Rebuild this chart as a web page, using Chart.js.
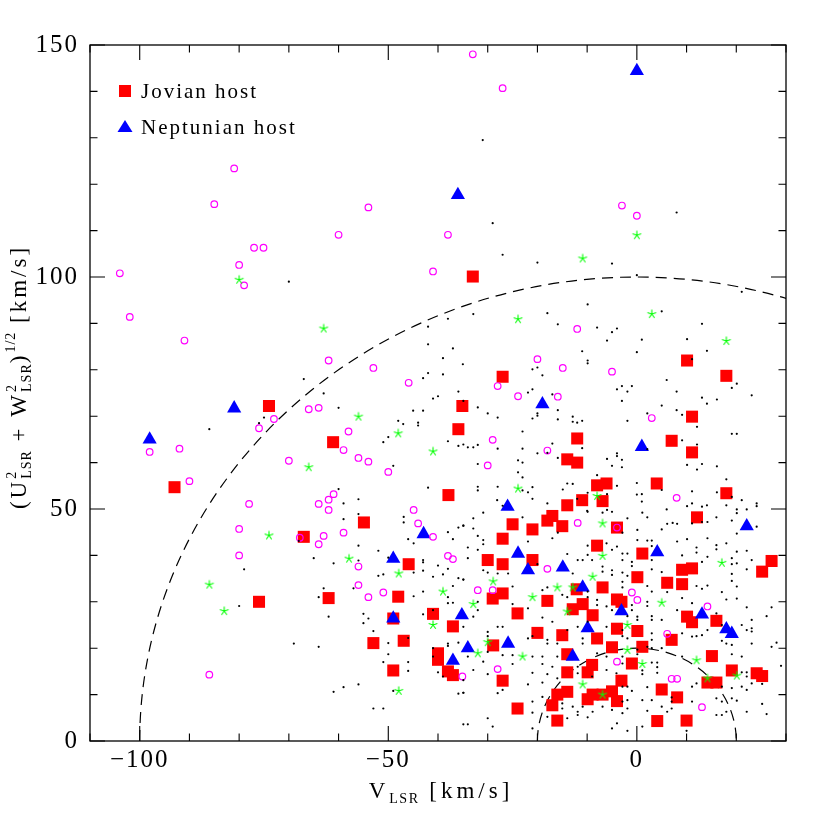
<!DOCTYPE html>
<html><head><meta charset="utf-8">
<script src="https://cdn.jsdelivr.net/npm/chart.js@4/dist/chart.umd.min.js"></script>
<style>html,body{margin:0;padding:0;background:#fff}#wrap{width:830px;height:830px}</style>
</head><body><div id="wrap"><canvas id="c" width="830" height="830"></canvas></div>
<script>
// ---- axis / reference data ----
const xRange=[-110,30];
const yRange=[0,150];
const xTickValues=[-100,-50,0];
const yTickValues=[0,50,100,150];
const minorStep=10;
const circleRadii=[100,20];
const legendLabels=['Jovian host','Neptunian host'];

// ---- series: [V_LSR, (U^2+W^2)^1/2] ----
const jovian=[[-33.0,100.1],[-74.0,72.2],[-93.0,54.7],[-76.0,30.0],[-61.1,64.4],[-35.9,67.2],[-35.1,72.2],[-37.9,53.0],
[-27.0,78.5],[-12.0,65.2],[-14.0,60.7],[-12.0,60.0],[-8.0,55.1],[-6.1,55.5],[-11.0,51.9],[-14.0,50.8],[-6.9,51.7],
[10.1,82.0],[18.0,78.7],[11.1,69.9],[7.0,64.7],[11.1,62.2],[4.0,55.5],[18.0,53.4],
[-54.9,47.1],[-67.0,44.0],[-45.9,38.1],[-62.0,30.8],[-48.0,31.1],[-41.0,27.4],[-37.0,24.7],[-49.0,26.4],[-53.0,21.1],[-46.9,21.6],[-40.0,18.9],[-40.0,17.5],[-49.0,15.2],[-38.0,15.0],[-37.0,14.2],
[-17.0,48.5],[-18.0,47.5],[-15.0,46.3],[-25.0,46.7],[-21.0,45.6],[-27.0,43.6],[-30.0,39.0],[-27.0,38.1],[-21.0,39.0],[-8.0,42.1],[-4.0,46.0],[-27.0,31.8],[-29.0,30.7],[-24.0,27.5],[-18.0,30.2],[-12.1,32.7],[-10.9,29.5],[-12.9,28.4],[-8.9,27.1],[-6.9,33.1],[-4.0,30.5],[-3.1,30.0],[-20.0,23.3],[-15.0,22.8],[-28.9,20.6],[-8.0,22.1],[-4.0,24.2],[-5.0,20.2],[-14.0,18.7],[-9.0,16.4],[-9.9,14.8],[-14.0,14.8],[-27.0,13.0],[-14.0,10.6],[-16.0,10.0],[-8.9,10.0],[-9.9,9.0],[-6.9,10.0],[-5.0,10.7],[-4.0,8.6],[-3.1,13.0],[-17.0,7.7],[-24.0,7.0],[-16.0,4.4],
[12.1,48.2],[1.1,40.4],[0.1,35.3],[6.1,34.1],[9.1,36.9],[11.1,37.2],[9.1,33.8],[0.1,23.7],[7.0,21.8],[1.1,20.3],[10.1,26.8],[11.1,25.6],[16.0,25.9],[-1.0,16.7],[15.1,18.3],[5.0,11.1],[8.1,9.4],[14.2,12.6],[16.0,12.6],[19.1,15.2],[24.1,14.6],[25.2,14.0],[25.2,36.5],[27.1,38.8],[4.1,4.3],[10.0,4.4]];

const neptunian=[[-36.0,117.7],[0.0,144.4],[-81.0,71.7],[-98.0,65.0],[-19.0,72.6],[-26.0,50.5],[1.0,63.4],
[-42.9,44.6],[-49.0,39.3],[-49.0,26.4],[-35.2,27.1],[-37.0,17.3],[-34.0,20.0],
[-23.9,40.4],[-21.9,36.8],[-14.9,37.4],[-10.9,33.1],[-9.9,24.3],[-25.9,21.0],[-12.9,18.2],[-3.1,28.0],
[22.1,46.3],[4.1,40.7],[13.1,27.3],[18.0,24.1],[19.1,23.1]];

const otherHosts=[[-81.0,123.4],[-85.0,115.7],[-77.0,106.3],[-75.1,106.3],[-80.0,102.6],[-104.0,100.8],
[-33.0,148.0],[-27.0,140.7],[-54.0,115.0],[-60.0,109.1],[-38.0,109.1],[-41.0,101.2],[-3.0,115.4],[0.0,113.2],
[-79.0,98.2],[-102.0,91.4],[-91.0,86.3],[-73.0,69.4],[-76.0,67.4],[-98.0,62.3],[-92.0,63.0],[-70.0,60.4],[-90.0,56.0],[-78.0,51.1],[-80.0,45.7],[-80.0,40.0],[-86.0,14.3],
[-62.0,82.0],[-53.0,80.4],[-45.9,77.2],[-66.0,71.5],[-64.0,71.8],[-58.0,66.7],[-59.0,62.7],[-56.0,61.0],[-54.0,60.2],[-50.0,58.0],[-61.0,53.2],[-62.0,52.0],[-64.0,51.1],[-62.0,49.8],[-44.9,49.8],
[-44.0,46.9],[-67.8,43.8],[-63.0,44.2],[-64.0,42.4],[-59.0,44.9],[-41.0,44.0],[-38.0,39.9],[-37.0,39.2],[-56.0,37.6],[-56.0,33.6],[-54.0,31.0],[-51.0,32.0],[-35.1,13.9],
[-12.0,88.8],[-20.0,82.3],[-14.9,80.4],[-5.0,79.6],[-28.0,76.5],[-23.9,74.3],[-15.9,74.2],[-29.0,64.9],[-18.0,62.6],[-30.0,59.4],
[3.0,69.6],[8.0,52.4],
[-11.9,47.0],[-4.0,46.0],[-18.0,37.1],[-32.0,32.5],[-29.0,32.5],[-28.0,15.5],[-4.0,17.1],
[-1.0,32.0],[0.1,30.4],[14.2,29.0],[6.1,23.1],[7.0,13.4],[8.1,13.4],[13.1,7.3]];

const starsGreen=[[0.0,109.0],[-10.9,104.0],[-80.0,99.4],[-74.0,44.3],[-86.0,33.7],[-83.0,28.0],
[-63.0,88.9],[-56.0,69.9],[-48.0,66.3],[-41.0,62.4],[-66.0,59.0],
[-23.9,90.9],[-23.9,54.4],[-8.0,52.8],[3.0,92.0],[18.0,86.2],
[-57.9,39.3],[-47.9,36.1],[-39.0,32.2],[-41.0,25.0],[-47.9,10.8],
[-6.9,46.9],[-6.9,39.9],[-8.9,35.4],[-28.9,34.4],[-16.0,33.1],[-12.9,33.1],[-21.0,31.0],[-32.9,29.5],[-14.0,27.9],[-30.0,21.3],[-32.0,18.9],[-23.0,18.2],[-10.9,12.2],[-6.9,10.0],
[17.1,38.4],[5.0,29.8],[-1.9,25.0],[-1.9,19.6],[1.1,16.6],[12.0,17.4],[14.2,13.5],[20.1,14.1]];

const fieldStars=[[-31.0,129.5],[-29.0,111.6],[-27.0,104.8],[-20.0,103.1],[8.0,113.9],[-5.0,102.9],[0.0,100.4],
[-70.0,99.0],[-86.0,67.2],[-76.0,68.5],[-75.0,69.7],[-68.0,43.1],[-79.0,37.0],[-80.0,29.1],[-69.0,21.0],[-67.0,78.0],
[-63.0,74.9],[-60.0,71.8],[-42.0,89.3],[-38.0,91.0],[-42.0,85.5],[-37.0,84.6],[-39.0,82.5],[-35.0,81.2],[-42.0,79.3],[-39.0,79.0],[-43.0,78.2],[-35.9,75.3],[-34.9,73.3],[-41.0,73.8],[-40.0,74.3],[-45.0,71.2],[-43.0,71.2],[-48.0,69.0],[-47.0,68.3],[-44.0,68.6],[-44.0,68.0],[-50.0,65.5],[-51.0,64.4],[-38.0,64.6],[-35.9,63.6],[-34.9,63.9],[-49.0,59.3],[-42.0,54.6],[-60.0,54.3],[-59.0,51.2],[-56.0,52.1],
[-32.9,92.0],[-9.9,94.1],[-18.0,92.2],[-15.9,89.8],[-8.0,89.1],[-5.0,88.1],[-4.0,88.9],[-6.0,86.3],[-11.0,84.0],[-9.9,82.0],[-9.9,81.4],[-21.0,80.1],[-20.0,80.5],[-19.0,78.8],[-21.9,75.1],[-21.0,75.8],[-17.0,74.7],[-4.0,75.8],[-3.0,76.5],[-3.0,73.3],[-32.0,71.9],[-30.0,70.6],[-28.0,69.7],[-21.0,69.5],[-20.0,70.6],[-20.0,70.1],[-15.9,71.3],[-15.9,69.3],[-12.9,69.9],[-12.9,68.8],[-12.0,68.6],[-11.0,69.0],[-23.0,66.7],[-17.0,64.1],[-18.0,62.1],[-11.0,63.1],[-34.0,63.3],[-32.9,63.3],[-32.0,63.8],[-28.0,63.0],[-23.0,63.0],[-20.0,62.0],[-15.9,61.0],[-23.9,60.5],[-23.0,60.0],[-32.0,59.7],[-23.9,57.9],[-23.0,56.8],[-6.0,60.8],[-4.0,62.0],[-4.0,61.4],[-5.0,59.3],[-3.0,60.6],[-4.0,55.0],[-8.0,57.3],[-14.0,55.5],[-12.9,55.4],[-14.9,54.2],[-32.0,54.8],[-32.0,54.0],[-28.0,54.8],[-23.0,54.0],[-21.9,53.6],[-21.0,54.7],[-21.0,52.2],[-18.0,51.2],[-9.9,53.5],[-6.0,53.2],[-12.0,52.2],[-28.1,51.9],[-27.0,50.7],[-10.0,49.6],[-6.0,49.8],
[21.1,96.8],[5.0,92.6],[13.1,89.9],[1.0,86.5],[10.1,86.6],[0.0,83.8],[14.1,84.1],[11.1,82.3],[6.0,77.8],[-1.0,76.5],[-1.9,75.3],[8.0,75.3],[19.1,76.1],[20.1,77.0],[23.1,74.5],[13.1,74.0],[14.1,72.7],[16.1,73.6],[5.0,72.3],[8.0,71.3],[9.1,70.3],[2.1,70.6],[-1.9,69.0],[12.1,67.7],[19.1,66.2],[20.1,66.2],[9.1,64.8],[12.1,63.9],[2.1,62.9],[-3.0,59.0],[10.1,59.5],[13.1,59.7],[12.1,58.5],[16.1,59.2],[18.0,56.4],[0.0,55.6],[5.0,54.1],[11.1,53.8],[16.1,53.6],[0.0,53.1],[1.0,53.2],[1.0,51.6],[19.1,52.6],[21.1,51.9],[11.1,51.2],[10.1,50.6],[13.1,50.5],[14.1,50.8],[6.0,49.9],[18.0,50.8],[20.1,49.9],[22.1,49.9],[24.1,51.2],[24.1,50.6],
[-56.0,48.9],[-59.0,47.8],[-46.9,48.3],[-46.9,47.1],[-46.0,43.5],[-44.9,42.6],[-38.0,45.0],[-37.0,43.5],[-35.9,46.0],[-34.9,46.4],[-56.0,42.1],[-52.0,41.0],[-65.0,39.4],[-61.0,38.3],[-56.0,38.9],[-50.0,39.5],[-43.0,39.0],[-43.0,38.5],[-40.0,37.8],[-38.0,37.1],[-44.9,36.3],[-43.0,36.7],[-41.0,35.4],[-39.0,35.9],[-52.0,35.6],[-51.0,35.9],[-35.9,35.1],[-34.9,34.8],[-63.0,32.9],[-57.0,32.9],[-64.0,31.0],[-44.9,31.2],[-43.0,32.2],[-37.0,33.4],[-38.0,31.0],[-38.0,29.7],[-37.0,29.8],[-55.0,27.4],[-54.0,26.4],[-55.0,25.4],[-62.0,26.8],[-43.0,27.3],[-41.0,28.2],[-53.0,23.7],[-46.0,22.2],[-50.0,21.1],[-38.0,21.0],[-38.0,20.5],[-35.9,21.2],[-64.0,20.3],[-50.0,18.7],[-41.0,20.0],[-41.0,18.2],[-51.0,17.0],[-46.0,17.0],[-46.0,15.1],[-40.0,14.8],[-39.0,13.9],[-34.9,13.1],[-56.0,12.2],[-59.0,11.6],[-61.0,10.6],[-49.0,10.8],[-53.0,7.0],[-51.0,7.0],[-35.9,10.2],[-34.9,10.4],[-34.9,3.6],
[-30.9,49.2],[-32.9,48.0],[-34.9,46.4],[-32.9,45.8],[-23.0,48.2],[-9.9,49.4],[-6.9,49.2],[-5.0,49.4],[-32.0,44.2],[-30.9,43.3],[-30.9,42.4],[-34.0,41.7],[-32.0,41.2],[-21.9,43.0],[-17.0,43.7],[-15.9,44.9],[-9.9,42.1],[-6.1,42.6],[-5.0,41.2],[-4.0,41.9],[-2.9,40.4],[-2.9,39.0],[-34.0,39.4],[-30.9,36.8],[-30.0,36.3],[-28.0,36.1],[-25.9,36.1],[-20.0,38.1],[-14.0,40.3],[-12.9,36.1],[-11.9,39.0],[-10.9,39.0],[-9.9,40.1],[-9.0,39.0],[-6.9,37.6],[-6.9,36.5],[-5.0,36.8],[-5.0,35.8],[-2.9,36.3],[-34.9,34.8],[-25.0,33.3],[-19.0,32.5],[-18.0,33.1],[-15.0,31.5],[-14.0,31.0],[-9.9,32.2],[-9.9,31.0],[-8.0,30.4],[-8.0,29.3],[-6.1,29.0],[-5.0,28.2],[-32.0,30.0],[-32.0,28.2],[-34.9,24.6],[-32.9,26.8],[-28.0,24.6],[-27.0,24.6],[-25.0,29.5],[-21.9,28.6],[-19.0,26.6],[-17.0,25.7],[-14.0,23.9],[-11.9,24.6],[-9.9,25.7],[-6.1,24.6],[-30.0,23.5],[-30.0,22.6],[-21.9,22.1],[-21.0,22.6],[-18.0,21.8],[-18.0,21.0],[-16.0,21.0],[-10.9,22.1],[-10.9,21.0],[-8.0,18.9],[-6.1,18.2],[-34.0,18.2],[-30.9,17.1],[-30.0,19.2],[-27.0,18.5],[-25.0,18.5],[-25.0,16.6],[-21.0,18.2],[-19.0,18.2],[-16.0,18.2],[-19.0,16.6],[-17.0,16.0],[-32.9,15.3],[-30.0,14.4],[-21.0,14.7],[-18.0,14.4],[-16.0,13.5],[-11.9,16.0],[-11.9,14.6],[-9.0,13.9],[-6.1,15.3],[-4.1,14.6],[-2.9,11.7],[-21.9,12.2],[-19.0,12.6],[-34.9,10.4],[-28.0,10.3],[-27.0,11.0],[-21.0,8.5],[-19.0,9.5],[-15.0,8.1],[-15.0,7.0],[-12.9,7.4],[-11.9,6.3],[-11.9,5.6],[-10.9,7.4],[-8.9,6.3],[-6.9,7.4],[-5.0,6.7],[-5.0,2.7],[-34.0,3.6],[-30.0,4.9],[-29.0,3.1],[-21.0,6.1],[-21.0,2.7],[-18.0,5.2],[-14.0,4.9],[-9.9,5.1],[-4.0,3.8],
[-1.9,48.0],[1.1,49.2],[2.1,48.2],[6.1,46.8],[7.2,47.0],[8.1,46.8],[5.0,45.6],[11.1,46.9],[13.1,47.2],[14.2,47.2],[16.0,48.2],[19.1,47.5],[20.1,49.1],[24.1,46.2],[20.1,44.7],[-2.9,44.9],[0.1,45.5],[0.1,43.3],[2.1,43.2],[3.0,43.2],[3.0,42.0],[8.1,43.0],[10.1,43.5],[12.0,41.7],[12.0,40.6],[14.2,43.7],[16.0,42.2],[16.0,41.3],[18.0,42.6],[20.1,40.8],[22.1,41.0],[-1.9,40.4],[-1.0,38.6],[-1.0,37.7],[3.0,39.0],[9.1,40.0],[13.1,38.6],[14.2,39.7],[19.1,39.4],[19.1,38.1],[20.1,38.3],[23.1,39.0],[-1.9,35.6],[3.0,37.0],[5.0,36.4],[19.1,36.0],[22.1,37.0],[-2.9,34.3],[-2.9,33.1],[2.1,33.4],[3.0,32.2],[6.1,32.1],[12.0,33.4],[13.1,32.8],[14.2,33.5],[17.1,32.1],[19.1,34.5],[20.1,33.3],[18.0,30.5],[20.1,30.7],[-1.0,29.3],[-1.0,28.2],[2.1,30.0],[2.1,29.1],[3.0,26.9],[3.0,26.1],[5.0,26.1],[8.1,28.2],[9.1,30.8],[11.1,29.7],[16.0,27.5],[-1.9,26.9],[0.1,26.8],[0.1,26.1],[22.1,28.8],[26.1,26.9],[27.1,28.8],[23.1,26.1],[-2.9,23.9],[-2.9,22.6],[-1.9,22.1],[3.0,23.2],[3.0,21.8],[9.1,23.2],[11.1,22.5],[12.0,22.6],[13.1,22.8],[14.2,23.9],[17.1,25.0],[21.1,25.0],[22.1,23.9],[23.1,24.3],[23.1,23.6],[17.1,21.6],[18.0,21.0],[19.1,20.7],[23.1,21.0],[27.1,20.3],[28.1,21.2],[0.1,19.7],[0.1,18.7],[2.1,20.3],[3.0,20.0],[5.0,20.0],[-2.9,18.2],[-2.9,16.7],[3.0,16.9],[4.1,16.9],[4.1,15.9],[9.1,18.2],[19.1,18.7],[21.1,18.2],[29.0,16.2],[21.1,14.8],[22.1,14.8],[22.1,13.9],[23.1,12.4],[25.2,12.3],[1.1,15.2],[1.1,14.4],[4.1,14.7],[-1.9,11.7],[-1.0,10.8],[2.1,11.6],[11.1,11.7],[12.0,12.4],[17.1,11.7],[19.1,11.4],[21.1,11.7],[22.1,11.0],[-2.9,8.5],[-1.9,8.8],[1.1,8.8],[3.0,8.8],[7.0,9.4],[7.0,8.5],[11.1,8.5],[16.0,9.2],[17.1,8.5],[19.1,9.2],[20.1,8.7],[-2.9,6.0],[-1.9,7.0],[2.1,6.5],[6.1,6.3],[7.0,7.0],[5.0,7.4],[16.0,5.6],[17.1,5.6],[18.0,6.3],[22.1,6.3],[25.2,8.0],[26.1,5.8],[-1.9,2.2],[1.1,3.1],[10.0,2.2]];

const SERIF='"Liberation Serif", "Times New Roman", serif';
const toPts=a=>a.map(p=>({x:p[0],y:p[1]}));
const fmt=v=>v<0?'\u2212'+Math.abs(v):String(v);

// 5-spoke asterisk marker image (marker glyph only)
const asterisk=(()=>{const c=document.createElement('canvas');c.width=12;c.height=12;const g=c.getContext('2d');
  g.strokeStyle='#00ff00';g.lineWidth=1.1;g.beginPath();
  for(let k=0;k<5;k++){const t=-Math.PI/2+k*2*Math.PI/5;g.moveTo(6,6);g.lineTo(6+4.6*Math.cos(t),6+4.6*Math.sin(t));}
  g.stroke();return c;})();

function measure(ctx,t,size,ls){ctx.font=size+'px '+SERIF;ctx.letterSpacing=ls+'px';return ctx.measureText(t).width;}
function drawRich(ctx,segs,cx,by){
  const w=segs.map(s=>s.stack?Math.max(measure(ctx,s.stack[0],s.size,s.ls),measure(ctx,s.stack[1],s.size,s.ls)):measure(ctx,s.t,s.size,s.ls));
  let x=cx-w.reduce((a,b)=>a+b,0)/2;
  ctx.textAlign='left';ctx.textBaseline='alphabetic';ctx.fillStyle='#000';
  segs.forEach((s,i)=>{
    ctx.font=s.size+'px '+SERIF;ctx.letterSpacing=s.ls+'px';
    if(s.stack){ctx.fillText(s.stack[0],x,by+s.up);ctx.fillText(s.stack[1],x,by+s.down);}
    else ctx.fillText(s.t,x,by+(s.dy||0));
    x+=w[i];
  });
}

const decor={
  id:'decor',
  beforeDraw(chart){chart.ctx.letterSpacing='2px';},
  beforeDatasetsDraw(chart){
    const {ctx,chartArea:a,scales:{x,y}}=chart;
    ctx.save();
    ctx.beginPath();ctx.rect(a.left,a.top,a.right-a.left,a.bottom-a.top);ctx.clip();
    ctx.strokeStyle='#000';ctx.lineWidth=1.2;ctx.setLineDash([11,7]);
    const cx=x.getPixelForValue(0),cy=y.getPixelForValue(0);
    circleRadii.forEach(r=>{
      const rx=Math.abs(x.getPixelForValue(r)-cx),ry=Math.abs(cy-y.getPixelForValue(r));
      ctx.beginPath();ctx.ellipse(cx,cy,rx,ry,0,Math.PI,2*Math.PI);ctx.stroke();
    });
    ctx.restore();
  },
  afterDraw(chart){
    const {ctx,chartArea:a,scales:{x,y}}=chart;
    ctx.save();
    ctx.strokeStyle='#000';ctx.lineWidth=1.3;ctx.setLineDash([]);
    ctx.strokeRect(a.left,a.top,a.right-a.left,a.bottom-a.top);
    ctx.lineWidth=1.1;ctx.beginPath();
    for(let v=Math.ceil(xRange[0]/minorStep)*minorStep;v<=xRange[1];v+=minorStep){
      const p=x.getPixelForValue(v),L=(v%50===0)?15:7.5;
      ctx.moveTo(p,a.bottom);ctx.lineTo(p,a.bottom-L);ctx.moveTo(p,a.top);ctx.lineTo(p,a.top+L);
    }
    for(let v=yRange[0];v<=yRange[1];v+=minorStep){
      const p=y.getPixelForValue(v),L=(v%50===0)?15:7.5;
      ctx.moveTo(a.left,p);ctx.lineTo(a.left+L,p);ctx.moveTo(a.right,p);ctx.lineTo(a.right-L,p);
    }
    ctx.stroke();
    // axis titles
    drawRich(ctx,[{t:'V',size:23,ls:4},{t:'LSR',size:14,ls:1.5,dy:5},{t:' [km/s]',size:23,ls:4}],441,798);
    ctx.save();ctx.translate(26,377);ctx.rotate(-Math.PI/2);
    drawRich(ctx,[{t:'(U',size:23,ls:3},{stack:['2','LSR'],size:14,ls:1,up:-10,down:5},{t:' + W',size:23,ls:3},{stack:['2','LSR'],size:14,ls:1,up:-10,down:5},{t:')',size:23,ls:3},{t:'1/2',size:14,ls:1,dy:-11},{t:' [km/s]',size:23,ls:3}],0,0);
    ctx.restore();
    // legend
    ctx.fillStyle='#ff0000';ctx.fillRect(119,85,12,12);
    ctx.fillStyle='#0000ff';ctx.beginPath();ctx.moveTo(125,120);ctx.lineTo(132.5,132);ctx.lineTo(117.5,132);ctx.closePath();ctx.fill();
    ctx.fillStyle='#000';ctx.font='21px '+SERIF;ctx.letterSpacing='2px';ctx.textAlign='left';ctx.textBaseline='alphabetic';
    ctx.fillText(legendLabels[0],141,98);ctx.fillText(legendLabels[1],141,134);
    ctx.restore();
  }
};

new Chart(document.getElementById('c'),{
  type:'scatter',
  data:{datasets:[
    {label:'Field stars',data:toPts(fieldStars),pointStyle:'circle',pointRadius:1.1,pointBorderWidth:0,backgroundColor:'#000',borderColor:'#000'},
    {label:'Other',data:toPts(starsGreen),pointStyle:asterisk,pointRadius:5,borderWidth:0,borderColor:'#00ff00',backgroundColor:'#00ff00'},
    {label:'Other hosts',data:toPts(otherHosts),pointStyle:'circle',pointRadius:3.3,borderWidth:1.2,borderColor:'#ff00ff',backgroundColor:'rgba(0,0,0,0)'},
    {label:legendLabels[1],data:toPts(neptunian),pointStyle:'triangle',pointRadius:8.2,borderWidth:0,backgroundColor:'#0000ff',borderColor:'#0000ff'},
    {label:legendLabels[0],data:toPts(jovian),pointStyle:'rect',pointRadius:8.5,borderWidth:0,backgroundColor:'#ff0000',borderColor:'#ff0000'}
  ]},
  options:{
    responsive:false,animation:false,devicePixelRatio:1,
    layout:{padding:{top:45,right:44,left:0,bottom:0}},
    plugins:{legend:{display:false},tooltip:{enabled:false}},
    scales:{
      x:{type:'linear',min:xRange[0],max:xRange[1],grid:{display:false},border:{display:false},
        afterBuildTicks:s=>{s.ticks=xTickValues.map(v=>({value:v}));},
        afterFit:s=>{s.height=89;},
        ticks:{color:'#000',font:{family:SERIF,size:25},padding:-4,maxRotation:0,callback:v=>fmt(v)}},
      y:{type:'linear',min:yRange[0],max:yRange[1],grid:{display:false},border:{display:false},
        afterBuildTicks:s=>{s.ticks=yTickValues.map(v=>({value:v}));},
        afterFit:s=>{s.width=90;},
        ticks:{color:'#000',font:{family:SERIF,size:25},padding:3,callback:v=>fmt(v)}}
    }
  },
  plugins:[decor]
});
</script></body></html>
